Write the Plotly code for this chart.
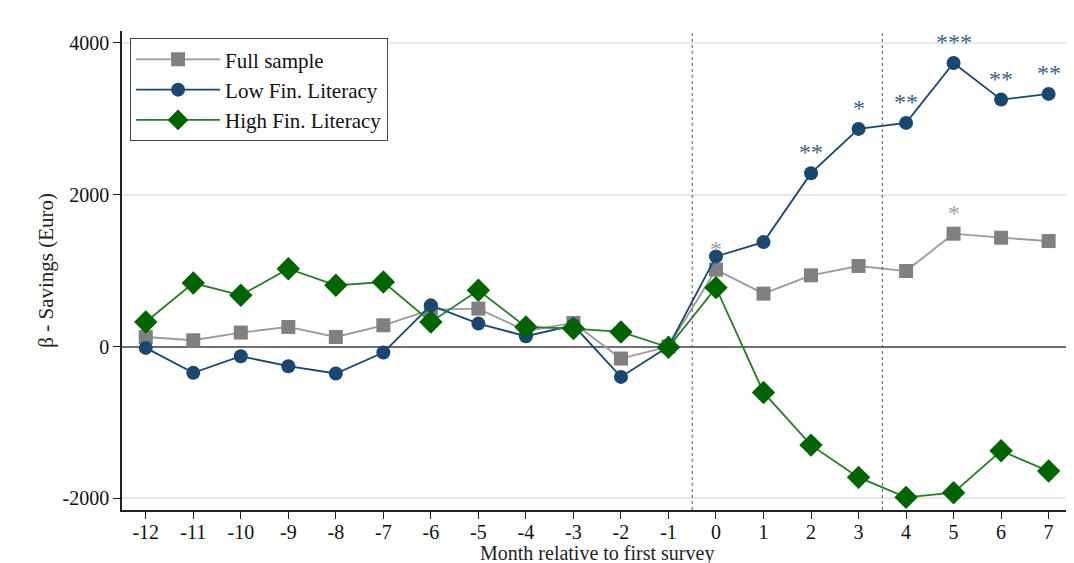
import plotly.graph_objects as go

months = list(range(-12, 8))
tick_labels = [str(m) for m in months]
y_ticks = [-2000, 0, 2000, 4000]
y_tick_labels = ["-2000", "0", "2000", "4000"]

full_sample = [126, 83, 184, 258, 126, 280, 487, 500, 205, 311, -158, 0,
               1013, 697, 938, 1061, 995, 1487, 1434, 1390]
low_fin = [-18, -347, -128, -259, -355, -79, 543, 302, 136, 280, -400, 0,
           1188, 1376, 2284, 2868, 2947, 3736, 3254, 3329]
high_fin = [324, 837, 675, 1026, 807, 850, 324, 741, 258, 237, 192, -10,
            776, -605, -1299, -1724, -1987, -1926, -1374, -1641]

full_sig = [""] * 12 + ["*", "", "", "", "", "*", "", ""]
low_sig = [""] * 12 + ["", "", "**", "*", "**", "***", "**", "**"]

GRAY_M, GRAY_L = "#808080", "#9a9a9a"
BLUE = "#1a476f"
GREEN_M, GREEN_L = "#006400", "#2a7a2a"
FONT = "Liberation Serif"

fig = go.Figure()
fig.add_trace(go.Scatter(x=months, y=full_sample, name="Full sample", mode="lines+markers",
                         line=dict(color=GRAY_L, width=1.8),
                         marker=dict(symbol="square", size=14, color=GRAY_M)))
fig.add_trace(go.Scatter(x=months, y=low_fin, name="Low Fin. Literacy", mode="lines+markers",
                         line=dict(color=BLUE, width=1.8),
                         marker=dict(symbol="circle", size=14, color=BLUE)))
fig.add_trace(go.Scatter(x=months, y=high_fin, name="High Fin. Literacy", mode="lines+markers",
                         line=dict(color=GREEN_L, width=1.8),
                         marker=dict(symbol="diamond", size=18, color=GREEN_M)))

annotations = []
for m, s, v in zip(months, full_sig, full_sample):
    if s:
        annotations.append(dict(x=m, y=v, text=s, showarrow=False, yshift=21,
                                font=dict(family=FONT, size=24, color="#a0a0a0")))
for m, s, v in zip(months, low_sig, low_fin):
    if s:
        annotations.append(dict(x=m, y=v, text=s, showarrow=False, yshift=21,
                                font=dict(family=FONT, size=24, color="#3a6288")))

annotations.append(dict(xref="paper", yref="paper", x=-0.081, y=0.5, xanchor="center", yanchor="middle",
                        text="β - Savings (Euro)", textangle=-90, showarrow=False,
                        font=dict(family=FONT, size=21, color="#222")))
annotations.append(dict(xref="paper", yref="paper", x=0.501, y=-0.091, xanchor="center", yanchor="middle",
                        text="Month relative to first survey", showarrow=False,
                        font=dict(family=FONT, size=20, color="#222")))

shapes = []
for xv in [-0.5, 3.5]:
    shapes.append(dict(type="line", xref="x", yref="paper", x0=xv, x1=xv, y0=0, y1=1,
                       line=dict(color="#555", width=1, dash="dot")))

# page body has an 8px margin: compensate so the plot area lands at 122..1070 x 31..510
fig.update_layout(
    width=1066, height=555,
    margin=dict(l=114, r=4, t=23, b=53),
    paper_bgcolor="white", plot_bgcolor="white",
    font=dict(family=FONT, size=20, color="#111"),
    showlegend=True,
    legend=dict(x=0.0085, y=0.985, xanchor="left", yanchor="top",
                bordercolor="#444", borderwidth=1, bgcolor="white",
                font=dict(family=FONT, size=21), tracegroupgap=0, itemwidth=84),
    annotations=annotations,
    shapes=shapes,
    xaxis=dict(range=[-12.5, 7.45], tickmode="array", tickvals=months, ticktext=tick_labels,
               showgrid=False, zeroline=False, showline=True, linecolor="#222", linewidth=1.5,
               ticks="outside", ticklen=7, tickcolor="#222", tickwidth=1.2, automargin=False,
               ticklabelstandoff=-4, tickfont=dict(family=FONT, size=20)),
    yaxis=dict(range=[-2154, 4158], tickmode="array", tickvals=y_ticks, ticktext=y_tick_labels,
               showgrid=True, gridcolor="#e8e8e8", gridwidth=1.5,
               zeroline=True, zerolinecolor="#707070", zerolinewidth=2,
               showline=True, linecolor="#222", linewidth=1.5, automargin=False,
               ticks="outside", ticklen=7, tickcolor="#222", tickwidth=1.2,
               tickfont=dict(family=FONT, size=20)),
)

fig.write_html("out.html")
